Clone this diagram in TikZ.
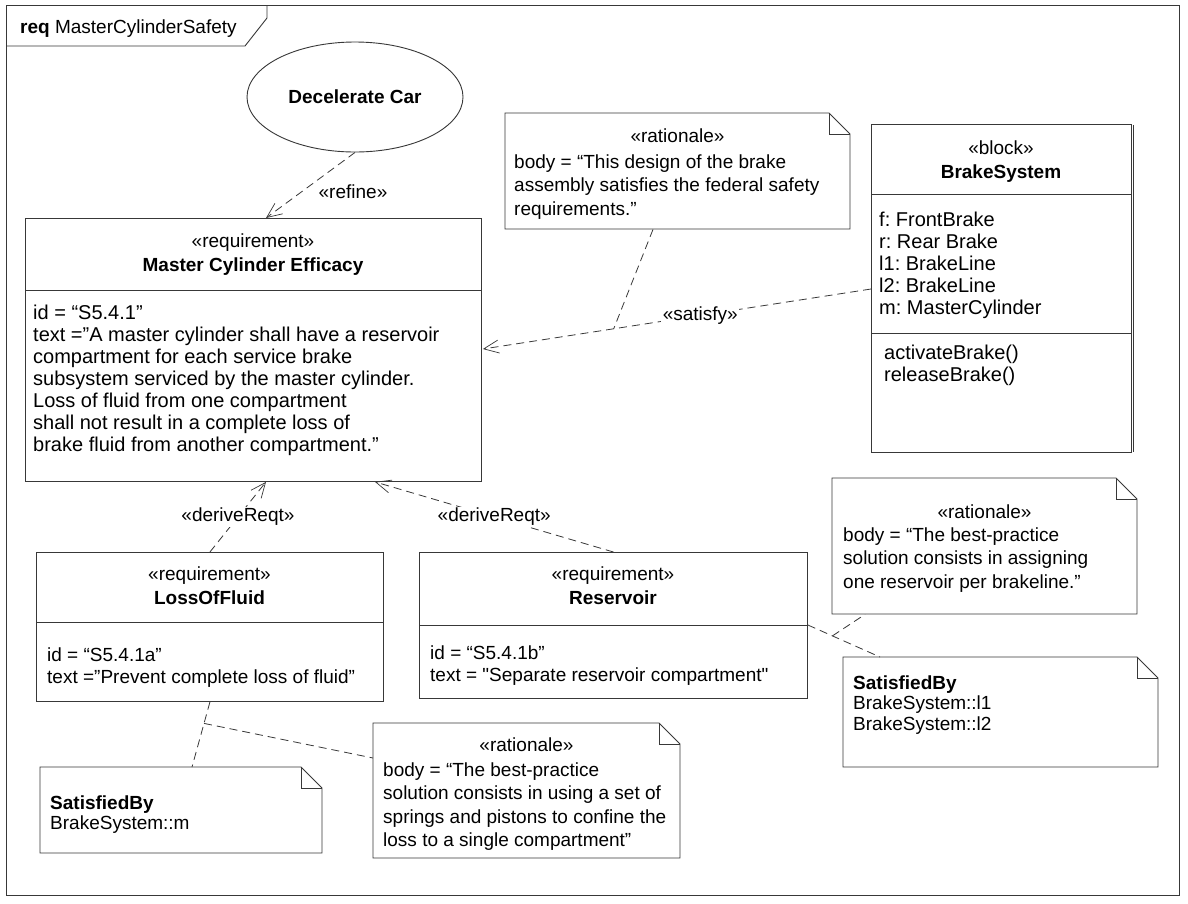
\documentclass[tikz,border=0pt]{standalone}
\usepackage{fontspec}
\setmainfont{Liberation Sans}
\newfontfamily\rawq{Liberation Sans}
\usetikzlibrary{arrows.meta,calc,shapes.geometric}
\frenchspacing
\newcommand\fs{\fontsize{19}{22}\selectfont}
\newcommand\fsl{\fontsize{20}{22}\selectfont}
\newcommand\fn{\fontsize{19}{23.5}\selectfont}
\newcommand\fsb{\fontsize{19}{20.5}\selectfont}
\newcommand\lines[2]{\parbox[t]{500pt}{#1\frenchspacing\raggedright #2}}
\newcommand\sq{{\rawq"}}
\newcommand\notebox[5]{%
  \node[inner sep=0, minimum width={#4-#2}, minimum height={#5-#3}, anchor=north west] (#1) at (#2,#3) {};
  \draw[ln] (#2,#3) -- (#4-21,#3) -- (#4,#3+21) -- (#4,#5) -- (#2,#5) -- cycle;
  \draw[ln] (#4-21,#3) -- (#4-21,#3+21) -- (#4,#3+21);}
\newcommand\boxnode[5]{%
  \node[ln, draw, inner sep=0, minimum width={#4-#2}, minimum height={#5-#3}, anchor=north west] (#1) at (#2,#3) {};}
\begin{document}
\begin{tikzpicture}[x=1pt,y=-1pt,
  ln/.style={draw=black!78, line width=0.9pt},
  tx/.style={anchor=base west, inner sep=0, font=\fs, text=black},
  ctx/.style={anchor=base, inner sep=0, font=\fs, text=black},
  dep/.style={draw=black!78, line width=0.8pt, dash pattern=on 8pt off 5pt,
    -{Straight Barb[length=15pt,width=13pt,line width=0.7pt]}},
  lnk/.style={draw=black!78, line width=0.8pt, dash pattern=on 8pt off 5pt},
  lbl/.style={inner sep=1.5pt, font=\fs, fill=white, text=black}]
\useasboundingbox (0,0) rectangle (1188,903);
\fill[white] (0,0) rectangle (1188,903);

% frame
\draw[ln] (6,5) rectangle (1179,895);
\draw[ln] (6,46) -- (245,46) -- (267,18) -- (267,5);
\node[tx] (hdr) at (20,33) {\textbf{req} MasterCylinderSafety};

% use case
\node[ln, draw, ellipse, minimum width=216, minimum height=110, inner sep=0,
  font=\fs\bfseries] (dc) at (355,97) {Decelerate Car};

% Master Cylinder Efficacy
\boxnode{mce}{25}{218}{481}{481}
\draw[ln] (mce.west |- 0,290) -- (mce.east |- 0,290);
\node[ctx] (mcest) at (253,247) {«requirement»};
\node[ctx, font=\fs\bfseries] (mcenm) at (253,271) {Master Cylinder Efficacy};
\node[tx] (mcebd) at (33,319) {\lines{\fsl}{id = “S5.4.1”\\
text =”A master cylinder shall have a reservoir\\
compartment for each service brake\\
subsystem serviced by the master cylinder.\\
Loss of fluid from one compartment\\
shall not result in a complete loss of\\
brake fluid from another compartment.”}};

% BrakeSystem block
\boxnode{bs}{871}{124}{1131}{452}
\draw[ln] (1133.5,125) -- (1133.5,452);
\draw[ln] (bs.west |- 0,194) -- (bs.east |- 0,194);
\draw[ln] (bs.west |- 0,333) -- (bs.east |- 0,333);
\node[ctx] (bsst) at (1001,154) {«block»};
\node[ctx, font=\fs\bfseries] (bsnm) at (1001,178) {BrakeSystem};
\node[tx] (bsat) at (879,226) {\lines{\fsl}{f: FrontBrake\\r: Rear Brake\\l1: BrakeLine\\l2: BrakeLine\\m: MasterCylinder}};
\node[tx] (bsop) at (884,359) {\lines{\fsl}{activateBrake()\\releaseBrake()}};

% LossOfFluid
\boxnode{lof}{36}{552}{383}{701}
\draw[ln] (lof.west |- 0,622) -- (lof.east |- 0,622);
\node[ctx] (lofst) at (209.5,580) {«requirement»};
\node[ctx, font=\fs\bfseries] (lofnm) at (209.5,604) {LossOfFluid};
\node[tx] (lofbd) at (47,661) {\lines{\fs}{id = “S5.4.1a”\\text =”Prevent complete loss of fluid”}};

% Reservoir
\boxnode{res}{419}{552}{807}{698}
\draw[ln] (res.west |- 0,625) -- (res.east |- 0,625);
\node[ctx] (resst) at (613,580) {«requirement»};
\node[ctx, font=\fs\bfseries] (resnm) at (613,604) {Reservoir};
\node[tx] (resbd) at (430,659) {\lines{\fs}{id = “S5.4.1b”\\text = \sq Separate reservoir compartment\sq}};

% rationale notes
\notebox{ra}{505}{113}{850}{229}
\node[ctx] (rast) at (677.5,142) {«rationale»};
\node[tx] (rabd) at (514,168) {\lines{\fn}{body = “This design of the brake\\assembly satisfies the federal safety\\requirements.”}};

\notebox{rb}{832}{478}{1137}{614}
\node[ctx] (rbst) at (984.5,518) {«rationale»};
\node[tx] (rbbd) at (843,541) {\lines{\fn}{body = “The best-practice\\solution consists in assigning\\one reservoir per brakeline.”}};

\notebox{rc}{373}{723}{680}{858}
\node[ctx] (rcst) at (526.5,751) {«rationale»};
\node[tx] (rcbd) at (383,776) {\lines{\fn}{body = “The best-practice\\solution consists in using a set of\\springs and pistons to confine the\\loss to a single compartment”}};

% satisfied-by notes
\notebox{sa}{40}{767}{322}{853}
\node[tx] (sabd) at (50,809) {\lines{\fsb}{\textbf{SatisfiedBy}\\BrakeSystem::m}};

\notebox{sb}{843}{657}{1158}{767}
\node[tx] (sbbd) at (853,689) {\lines{\fsb}{\textbf{SatisfiedBy}\\BrakeSystem::l1\\BrakeSystem::l2}};

% connectors
\draw[dep] (dc.south) -- ($(mce.north west)+(241,0)$);
\node[inner sep=0, font=\fs] (reflbl) at (353,192) {«refine»};

\draw[dep] ($(bs.north west)+(0,165)$) -- node[lbl, pos=0.44] (satlbl) {«satisfy»}
  coordinate[pos=0.663] (satpt) ($(mce.north east)+(1,131)$);
\draw[lnk] ($(ra.south west)+(148,0)$) -- (satpt);

\draw[dep] (lof.north) -- node[lbl] (dr1) {«deriveReqt»} ($(mce.south west)+(241,0)$);
\draw[dep] (res.north) -- node[lbl] (dr2) {«deriveReqt»} ($(mce.south west)+(350,0)$);

\draw[lnk] (lof.south) -- coordinate[pos=0.33] (b1) ($(sa.north west)+(152,0)$);
\draw[lnk] (b1) -- ($(rc.north west)+(0,35)$);

\draw[lnk] ($(res.north east)+(0,73)$) -- coordinate[pos=0.34] (b2) ($(sb.north west)+(37,0)$);
\draw[lnk] (b2) -- ($(rb.south west)+(33,0)$);
\end{tikzpicture}
\end{document}
